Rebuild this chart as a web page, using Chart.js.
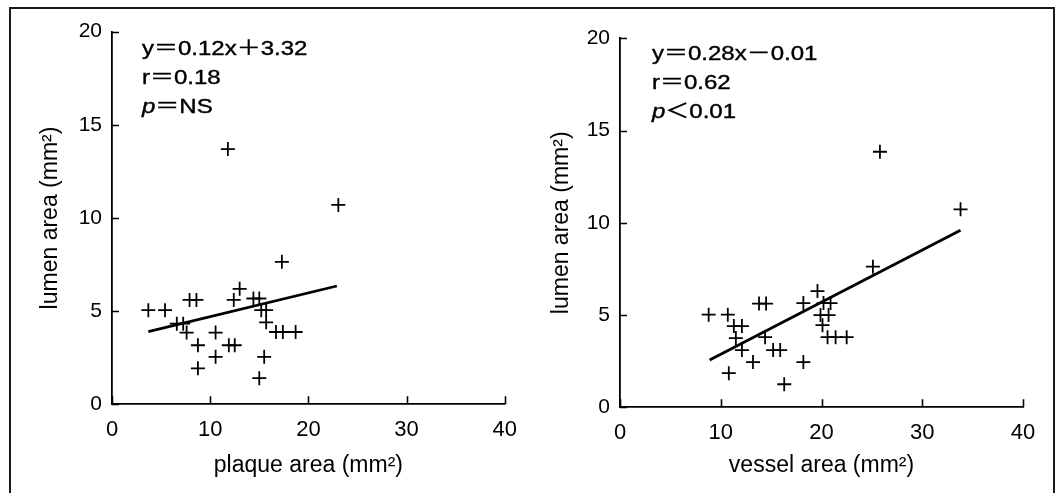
<!DOCTYPE html>
<html>
<head>
<meta charset="utf-8">
<script src="https://cdn.jsdelivr.net/npm/chart.js@4.4.1/dist/chart.umd.min.js"></script>
<style>
    html, body { margin: 0; padding: 0; background: #fff; }
    body { width: 1058px; height: 493px; position: relative; overflow: hidden; }
    .frame { position: absolute; left: 9px; top: 7px; width: 1046px; height: 520px; border: 2px solid #1a1a1a; box-sizing: border-box; }
    .plot { position: absolute; top: 0; width: 529px; height: 493px; }
</style>
</head>
<body>
<div class="frame"></div>
<div class="plot" style="left:0"><canvas id="plaque_chart"></canvas></div>
<div class="plot" style="left:529px"><canvas id="vessel_chart"></canvas></div>
<script>
// axis ticks (shared by both panels)
const xTicks = [0, 10, 20, 30, 40];
const yTicks = [0, 5, 10, 15, 20];

// left panel: plaque area vs lumen area
const plaqueArea = [3.7, 5.4, 6.6, 7.25, 7.6, 7.9, 8.6, 8.75, 8.75, 10.55, 10.55, 11.8, 11.9, 12.5,
    12.4, 13.0, 14.4, 15.0, 15.2, 15.7, 15.7, 15.5, 15.0, 16.7, 17.4, 18.7, 17.3, 23.05];
const lumenLeft = [5.05, 5.05, 4.33, 4.33, 3.85, 5.6, 5.6, 3.17, 1.93, 3.85, 2.55, 13.7, 3.17, 3.17,
    5.6, 6.2, 5.68, 5.68, 5.05, 5.05, 4.4, 2.55, 1.4, 3.88, 3.88, 3.88, 7.65, 10.7];
const plaqueFitX = [3.7, 22.9];
const plaqueFitY = [3.9, 6.35];

// right panel: vessel area vs lumen area
const vesselArea = [8.8, 10.7, 11.3, 12.1, 11.5, 12.1, 10.8, 13.2, 13.8, 14.5, 14.4, 15.2, 15.9, 16.3,
    18.2, 18.2, 19.6, 20.2, 20.9, 19.9, 20.7, 20.1, 20.6, 21.4, 22.5, 25.1, 25.8, 33.8];
const lumenRight = [5.02, 5.02, 4.4, 4.4, 3.75, 3.1, 1.85, 2.45, 5.62, 5.62, 3.8, 3.1, 3.1, 1.25,
    2.45, 5.65, 6.3, 5.65, 5.65, 5.0, 5.0, 4.45, 3.8, 3.8, 3.8, 7.62, 13.85, 10.73];
const vesselFitX = [8.9, 33.8];
const vesselFitY = [2.56, 9.6];

// regression annotations, each line is a list of [text, italic]
const plaqueNotes = [[['y＝0.12x＋3.32', false]], [['r＝0.18', false]], [['p', true], ['＝NS', false]]];
const vesselNotes = [[['y＝0.28x－0.01', false]], [['r＝0.62', false]], [['p', true], ['＜0.01', false]]];

const INK = '#000';
const FONT_FAMILY = '"Liberation Sans", Arial, "Noto Sans CJK JP", sans-serif';

function toPoints(xs, ys) {
    return xs.map((x, i) => ({ x: x, y: ys[i] }));
}

// ticks point inward, and the regression text sits in the top-left corner
const panelDecor = {
    id: 'panelDecor',
    afterDraw(chart, args, opts) {
        const ctx = chart.ctx;
        const area = chart.chartArea;
        const xs = chart.scales.x;
        const ys = chart.scales.y;
        ctx.save();
        ctx.strokeStyle = INK;
        ctx.lineWidth = 1.6;
        ctx.beginPath();
        xTicks.forEach(v => {
            const px = Math.round(xs.getPixelForValue(v)) + 0.5;
            ctx.moveTo(px, area.bottom);
            ctx.lineTo(px, area.bottom - 8);
        });
        yTicks.forEach(v => {
            const py = Math.round(ys.getPixelForValue(v)) + 0.5;
            ctx.moveTo(area.left, py);
            ctx.lineTo(area.left + 7, py);
        });
        ctx.stroke();

        ctx.fillStyle = INK;
        ctx.strokeStyle = INK;
        ctx.lineWidth = 0.4;
        ctx.textBaseline = 'alphabetic';
        opts.lines.forEach((parts, i) => {
            let x = area.left + opts.dx;
            const y = area.top + opts.dy + i * 29;
            parts.forEach(([text, italic]) => {
                ctx.font = (italic ? 'italic ' : '') + '20px ' + FONT_FAMILY;
                ctx.save();
                ctx.translate(x, y);
                ctx.scale(1.2, 1);
                ctx.fillText(text, 0, 0);
                ctx.strokeText(text, 0, 0);
                ctx.restore();
                x += ctx.measureText(text).width * 1.2;
            });
        });
        ctx.restore();
    }
};

function renderPanel(canvasId, pointsX, pointsY, fitX, fitY, xTitle, notes, layout) {
    const ctx = document.getElementById(canvasId).getContext('2d');
    return new Chart(ctx, {
        type: 'scatter',
        data: {
            datasets: [{
                data: toPoints(pointsX, pointsY),
                pointStyle: 'cross',
                pointRadius: 7,
                pointBorderWidth: 1.8,
                borderColor: INK,
                backgroundColor: INK
            }, {
                data: toPoints(fitX, fitY),
                showLine: true,
                pointRadius: 0,
                borderWidth: 2.8,
                borderColor: INK
            }]
        },
        options: {
            responsive: true,
            maintainAspectRatio: false,
            animation: false,
            layout: { padding: { top: layout.top, right: layout.right, left: 0, bottom: 0 } },
            plugins: {
                legend: { display: false },
                tooltip: { enabled: false },
                panelDecor: { lines: notes, dx: layout.noteX, dy: layout.noteY }
            },
            scales: {
                x: {
                    type: 'linear',
                    min: 0,
                    max: 40,
                    afterFit: scale => { scale.height = layout.xAxisHeight; },
                    afterBuildTicks: scale => { scale.ticks = xTicks.map(v => ({ value: v })); },
                    grid: { drawOnChartArea: false, drawTicks: false },
                    border: { display: true, color: INK, width: 1.8 },
                    ticks: { color: INK, font: { family: FONT_FAMILY, size: 22 }, padding: 12, maxRotation: 0 },
                    title: {
                        display: true,
                        text: xTitle,
                        color: INK,
                        font: { family: FONT_FAMILY, size: 23 },
                        padding: { top: 0, bottom: 14 }
                    }
                },
                y: {
                    type: 'linear',
                    min: 0,
                    max: 20,
                    afterFit: scale => { scale.width = layout.yAxisWidth; },
                    afterBuildTicks: scale => { scale.ticks = yTicks.map(v => ({ value: v })); },
                    grid: { drawOnChartArea: false, drawTicks: false },
                    border: { display: true, color: INK, width: 1.8 },
                    ticks: { color: INK, font: { family: FONT_FAMILY, size: 21 }, padding: 10 },
                    title: {
                        display: true,
                        text: 'lumen area (mm²)',
                        color: INK,
                        font: { family: FONT_FAMILY, size: 23 },
                        padding: { top: layout.yTitlePad, bottom: 0 }
                    }
                }
            }
        },
        plugins: [panelDecor]
    });
}

renderPanel('plaque_chart', plaqueArea, lumenLeft, plaqueFitX, plaqueFitY, 'plaque area (mm²)', plaqueNotes,
    { top: 31.7, right: 15.5, yAxisWidth: 112, xAxisHeight: 88.7, yTitlePad: 37, noteX: 30, noteY: 23 });

renderPanel('vessel_chart', vesselArea, lumenRight, vesselFitX, vesselFitY, 'vessel area (mm²)', vesselNotes,
    { top: 38.3, right: 35, yAxisWidth: 91, xAxisHeight: 85.7, yTitlePad: 19, noteX: 32, noteY: 22 });
</script>
</body>
</html>
